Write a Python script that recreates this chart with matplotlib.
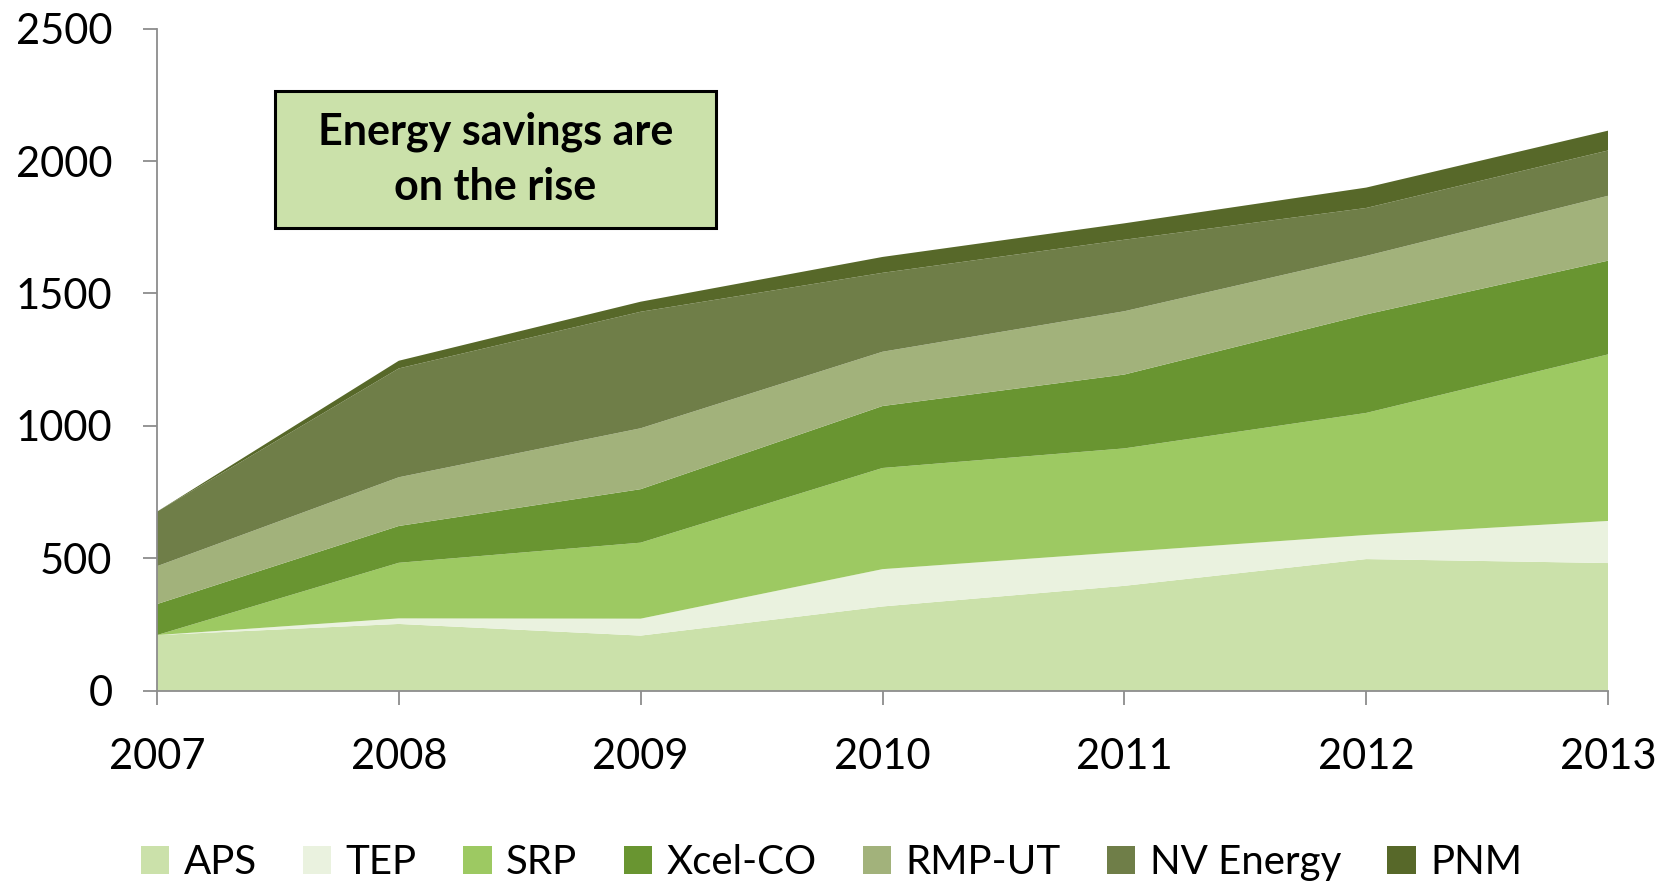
import matplotlib
matplotlib.use("Agg")
import matplotlib.pyplot as plt
from matplotlib.patches import Patch, Rectangle

years = [2007, 2008, 2009, 2010, 2011, 2012, 2013]
series_names = ["APS", "TEP", "SRP", "Xcel-CO", "RMP-UT", "NV Energy", "PNM"]
aps = [210, 252, 208, 318, 396, 497, 482]
tep = [0, 21, 64, 141, 128, 91, 159]
srp = [0, 210, 287, 382, 391, 461, 629]
xcel = [117, 139, 202, 234, 279, 372, 354]
rmp = [143, 184, 230, 205, 239, 221, 245]
nv = [206, 411, 440, 298, 270, 181, 171]
pnm = [0, 29, 38, 60, 62, 77, 75]
yticks = [0, 500, 1000, 1500, 2000, 2500]
colors = ["#CBE1AA", "#EAF2DF", "#9DC962", "#699531", "#A2B27B", "#6F7E48", "#576829"]

plt.rcParams['font.family'] = ['Lato', 'DejaVu Sans']

fig = plt.figure(figsize=(16.73, 8.83), dpi=100)
ax = fig.add_axes([0.0938, 0.2178, 0.9612 - 0.0938, 0.9675 - 0.2178])

ax.stackplot(years, aps, tep, srp, xcel, rmp, nv, pnm, colors=colors, linewidth=0)

ax.set_xlim(2007, 2013)
ax.set_ylim(0, 2500)
ax.set_xticks(years)
ax.set_xticklabels([str(y) for y in years])
ax.set_yticks(yticks)
ax.set_yticklabels([str(v) for v in yticks])
for s in ["top", "right"]:
    ax.spines[s].set_visible(False)
for s in ["left", "bottom"]:
    ax.spines[s].set_color("#8C8C8C")
    ax.spines[s].set_linewidth(1.3)
ax.tick_params(axis="both", colors="#8C8C8C", length=10, width=1.3, direction="out",
               labelcolor="black", labelsize=30)
ax.tick_params(axis="x", pad=24)
ax.tick_params(axis="y", pad=22)

ax.add_patch(Rectangle((0.0813, 0.6994), 0.304, 0.207, transform=ax.transAxes,
                       facecolor="#CBE1AA", edgecolor="black", linewidth=2.2, zorder=5))
ax.text(0.2333, 0.803, "Energy savings are\non the rise", transform=ax.transAxes,
        ha="center", va="center", fontsize=31, fontweight="bold", linespacing=1.45, zorder=6)

handles = [Patch(facecolor=c, edgecolor="none") for c in colors]
fig.legend(handles, series_names, loc="center", bbox_to_anchor=(0.497, 0.023), ncol=7,
           frameon=False, fontsize=29, handlelength=0.7, handleheight=0.7,
           handletextpad=0.36, columnspacing=1.15)

fig.savefig("out.png", dpi=100)
